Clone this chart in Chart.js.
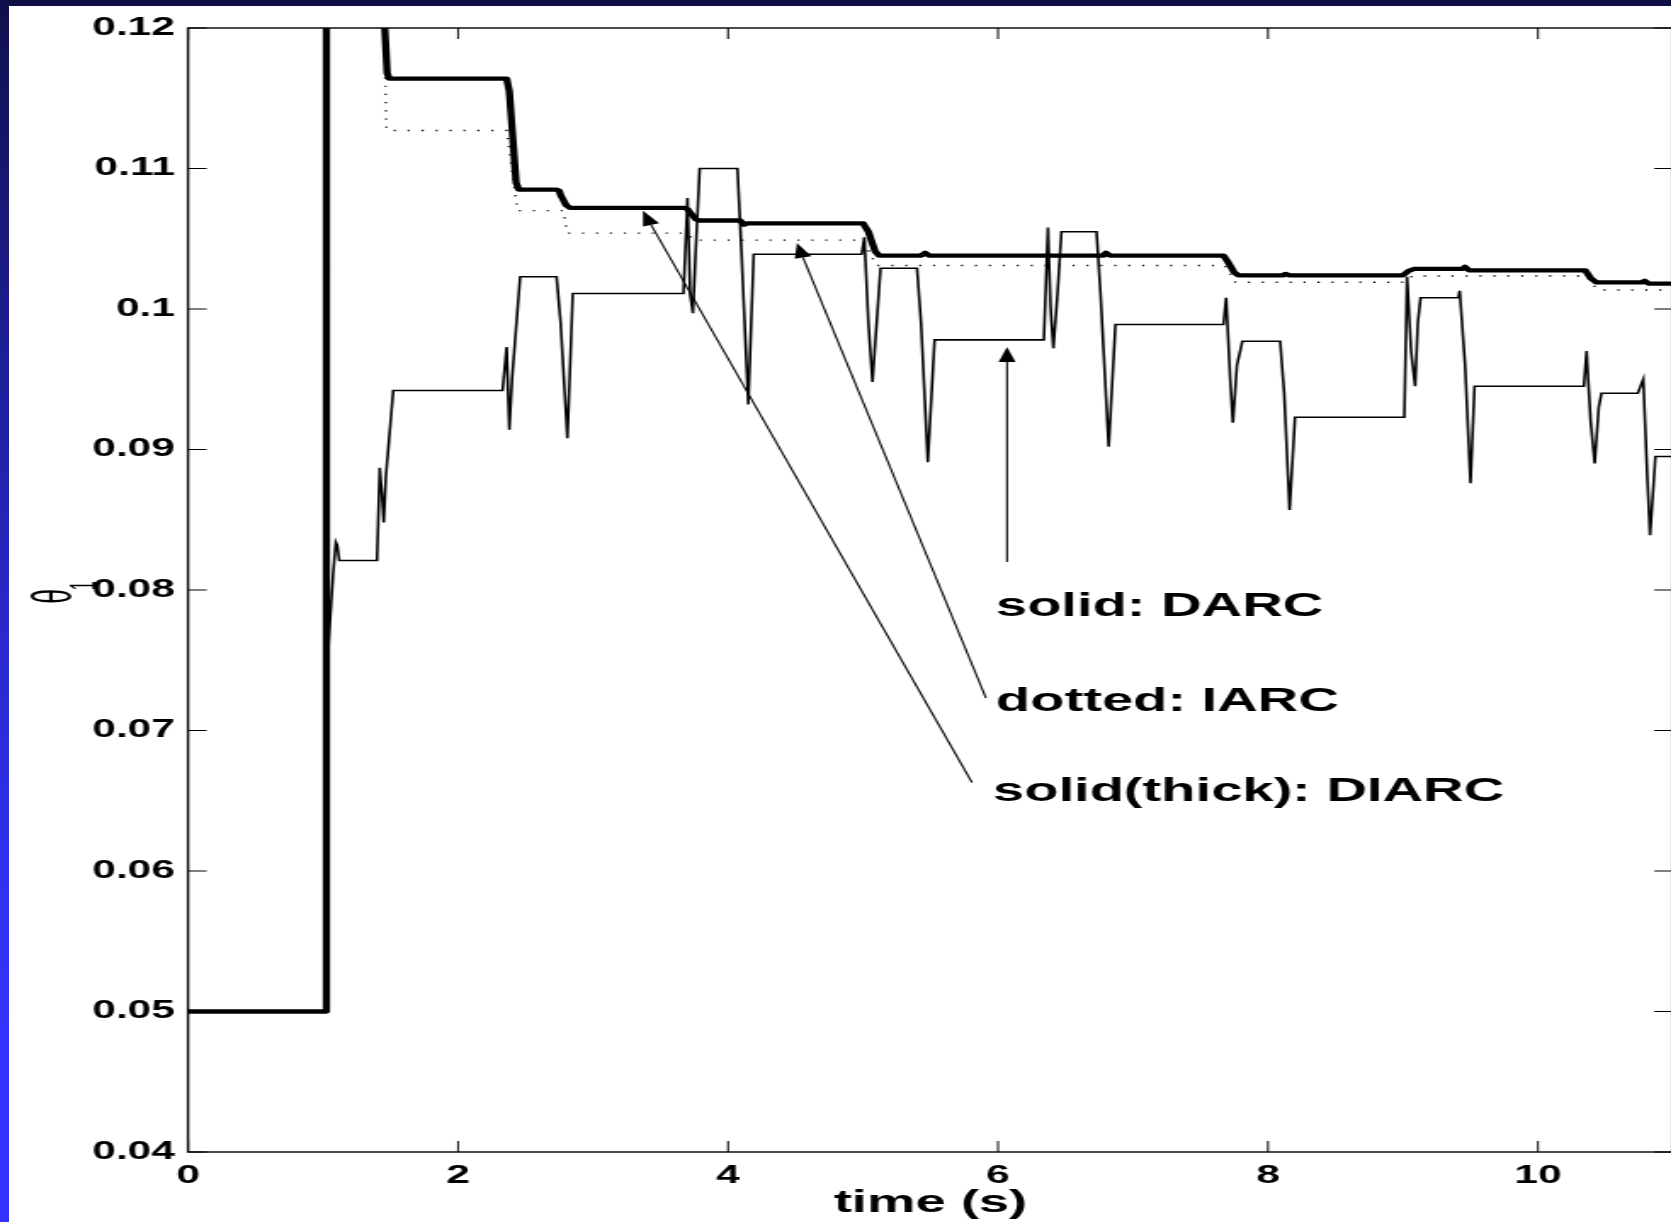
<!DOCTYPE html>
<html><head><meta charset="utf-8">
<script src="https://cdn.jsdelivr.net/npm/chart.js@4/dist/chart.umd.min.js"></script>
<style>
html,body{margin:0;padding:0;width:1671px;height:1222px;overflow:hidden;background:#fff;}
#wrap{position:absolute;left:0;top:0;width:992px;height:1222px;transform:scaleX(1.7);transform-origin:0 0;}
#topbar{position:absolute;left:0;top:0;width:1671px;height:6px;background:#0e0e44;z-index:2;}
#leftbar{position:absolute;left:0;top:0;width:9px;height:1222px;z-index:3;
  background:linear-gradient(to bottom,#10104c 0%,#1c1c8c 25%,#2828c8 50%,#3030ec 70%,#3434ff 85%,#3434ff 100%);}
</style></head>
<body>
<div id="wrap"><canvas id="c"></canvas></div>
<div id="topbar"></div><div id="leftbar"></div>
<script>
// ---- data (time in s, theta_1 values) ----
const darcT = [0,1.015,1.02,1.04,1.06,1.075,1.095,1.105,1.12,1.40,1.42,1.435,1.45,1.465,1.52,2.33,2.36,2.38,2.40,2.46,2.73,2.76,2.81,2.85,3.67,3.70,3.72,3.74,3.76,3.79,4.07,4.10,4.15,4.19,4.99,5.01,5.04,5.07,5.09,5.13,5.40,5.43,5.48,5.53,6.34,6.37,6.39,6.41,6.44,6.47,6.73,6.76,6.82,6.87,7.67,7.69,7.72,7.74,7.77,7.81,8.09,8.12,8.16,8.20,9.01,9.03,9.06,9.09,9.11,9.13,9.41,9.42,9.46,9.50,9.53,10.34,10.36,10.39,10.42,10.45,10.47,10.74,10.78,10.81,10.83,10.87,11.0];
const darcV = [0.05,0.05,0.0700,0.0760,0.0790,0.0812,0.0834,0.0832,0.0821,0.0821,0.0887,0.0870,0.0848,0.0880,0.0942,0.0942,0.0973,0.0914,0.0950,0.1023,0.1023,0.0990,0.0908,0.1011,0.1011,0.1079,0.1010,0.0997,0.1040,0.1100,0.1100,0.1040,0.0932,0.1039,0.1039,0.1051,0.0990,0.0948,0.0975,0.1029,0.1029,0.0990,0.0891,0.0978,0.0978,0.1058,0.1000,0.0972,0.1010,0.1055,0.1055,0.1010,0.0902,0.0989,0.0989,0.1008,0.0950,0.0919,0.0960,0.0977,0.0977,0.0940,0.0857,0.0923,0.0923,0.1023,0.0970,0.0945,0.0990,0.1008,0.1008,0.1013,0.0960,0.0876,0.0945,0.0945,0.0970,0.0920,0.0890,0.0930,0.0940,0.0940,0.0950,0.0880,0.0839,0.0895,0.0895];

const iarcT = [0,1.02,1.025,1.44,1.47,2.36,2.44,2.78,2.81,3.70,3.74,5.00,5.10,7.68,7.76,9.01,9.07,10.36,10.44,11.0];
const iarcV = [0.05,0.05,0.125,0.125,0.1127,0.1127,0.1070,0.1070,0.1054,0.1054,0.1049,0.1049,0.1031,0.1031,0.1019,0.1019,0.10235,0.10235,0.10135,0.10135];

const diarcT = [0,1.02,1.025,1.43,1.475,1.49,2.36,2.38,2.43,2.45,2.73,2.75,2.76,2.80,2.83,3.68,3.70,3.76,3.78,4.09,4.12,4.14,5.00,5.04,5.09,5.12,5.43,5.46,5.49,6.78,6.80,6.83,7.67,7.70,7.75,7.78,8.11,8.13,8.16,9.00,9.04,9.08,9.44,9.46,9.49,10.35,10.39,10.43,10.77,10.79,10.82,11.0];
const diarcV = [0.05,0.05,0.125,0.125,0.1168,0.1164,0.1164,0.1155,0.1090,0.1085,0.1085,0.1084,0.1081,0.1074,0.1072,0.1072,0.1071,0.1064,0.1063,0.1063,0.1060,0.1061,0.1061,0.1055,0.1041,0.1038,0.1038,0.1040,0.1038,0.1038,0.1040,0.1038,0.1038,0.1034,0.1026,0.1024,0.1024,0.1025,0.1024,0.1024,0.1027,0.10285,0.10285,0.1030,0.10275,0.10275,0.1022,0.1019,0.1019,0.1020,0.1018,0.1018];

const xTickValues = [0,2,4,6,8,10];
const xTickLabels = ['0','2','4','6','8','10'];
const yTickValues = [0.04,0.05,0.06,0.07,0.08,0.09,0.10,0.11,0.12];
const yTickLabels = ['0.04','0.05','0.06','0.07','0.08','0.09','0.1','0.11','0.12'];

const noteTexts = ['solid: DARC','dotted: IARC','solid(thick): DIARC'];
const noteT = [5.985,5.985,5.963];
const noteV = [0.07815,0.07139,0.06498];
const arrowTailT = [6.067,5.911,5.807];
const arrowTailV = [0.0820,0.0723,0.0663];
const arrowHeadT = [6.067,4.511,3.370];
const arrowHeadV = [0.0973,0.1047,0.1070];

const pts = (ts, vs) => ts.map((t,i)=>({x:t,y:vs[i]}));
const FONT = 'Liberation Sans';

// draw a glyph fitted into a box (in the current, rotated frame)
function fitGlyph(ctx, ch, boxW, boxH, x0, yBottom){
  ctx.font = '40px "'+FONT+'"';
  const m = ctx.measureText(ch);
  const gh = m.actualBoundingBoxAscent + m.actualBoundingBoxDescent;
  const gw = m.actualBoundingBoxLeft + m.actualBoundingBoxRight;
  const fs = 40 * boxH / gh;
  ctx.font = fs.toFixed(2)+'px "'+FONT+'"';
  const m2 = ctx.measureText(ch);
  const gw2 = m2.actualBoundingBoxLeft + m2.actualBoundingBoxRight;
  const sx = boxW / gw2;
  ctx.save();
  ctx.translate(x0, 0);
  ctx.scale(sx, 1);
  ctx.fillText(ch, m2.actualBoundingBoxLeft, yBottom - m2.actualBoundingBoxDescent);
  ctx.restore();
}

const framePlugin = {
  id:'frame',
  afterDraw(chart){
    const {ctx, chartArea:a, scales:{x,y}} = chart;
    ctx.save();
    ctx.strokeStyle = '#000';
    ctx.fillStyle = '#000';
    ctx.lineWidth = 1.4;
    ctx.strokeRect(a.left, a.top, a.right-a.left, a.bottom-a.top);
    ctx.lineWidth = 1;
    const seg=(x1,y1,x2,y2)=>{ctx.beginPath();ctx.moveTo(x1,y1);ctx.lineTo(x2,y2);ctx.stroke();};
    xTickValues.forEach(v=>{const px=x.getPixelForValue(v); seg(px,a.bottom,px,a.bottom-11); seg(px,a.top,px,a.top+11);});
    yTickValues.forEach(v=>{const py=y.getPixelForValue(v); seg(a.left,py,a.left+11,py); seg(a.right,py,a.right-11,py);});
    // arrows
    ctx.lineWidth = 1.1;
    for(let i=0;i<arrowTailT.length;i++){
      const x1=x.getPixelForValue(arrowTailT[i]), y1=y.getPixelForValue(arrowTailV[i]);
      const x2=x.getPixelForValue(arrowHeadT[i]), y2=y.getPixelForValue(arrowHeadV[i]);
      const ang=Math.atan2(y2-y1,x2-x1), L=15, W=5;
      const bx=x2-L*Math.cos(ang), by=y2-L*Math.sin(ang);
      seg(x1,y1,bx,by);
      ctx.beginPath();
      ctx.moveTo(x2,y2);
      ctx.lineTo(bx+W*Math.sin(ang), by-W*Math.cos(ang));
      ctx.lineTo(bx-W*Math.sin(ang), by+W*Math.cos(ang));
      ctx.closePath(); ctx.fill();
    }
    // notes
    ctx.font = 'bold 33px "'+FONT+'"';
    ctx.textBaseline = 'alphabetic';
    ctx.textAlign = 'left';
    noteTexts.forEach((s,i)=>ctx.fillText(s, x.getPixelForValue(noteT[i]), y.getPixelForValue(noteV[i])));
    // y axis title (theta with subscript 1), rotated
    ctx.translate(42.4, 603);
    ctx.rotate(-Math.PI/2);
    fitGlyph(ctx, 'θ', 13, 24.5, 0, 0);
    fitGlyph(ctx, '1', 8, 15.5, 13.5, 13.5);
    ctx.restore();
  }
};

new Chart(document.getElementById('c'), {
  type:'line',
  data:{datasets:[
    {label:'solid(thick): DIARC', data:pts(diarcT,diarcV), borderColor:'#000', borderWidth:4.3, pointRadius:0, borderJoinStyle:'round', borderCapStyle:'round', tension:0, order:0},
    {label:'dotted: IARC', data:pts(iarcT,iarcV), borderColor:'#000', borderWidth:1.4, borderDash:[1.2,7], pointRadius:0, tension:0, order:1},
    {label:'solid: DARC', data:pts(darcT,darcV), borderColor:'#000', borderWidth:1.6, pointRadius:0, tension:0, order:2}
  ]},
  options:{
    responsive:true, maintainAspectRatio:false, animation:false, events:[],
    layout:{padding:{left:0,right:7.9,top:28,bottom:0}},
    plugins:{legend:{display:false}, tooltip:{enabled:false}},
    scales:{
      x:{type:'linear', min:0, max:11,
        grid:{display:false, drawTicks:false}, border:{display:false},
        afterBuildTicks:s=>{s.ticks = xTickValues.map(v=>({value:v}));},
        afterFit:s=>{s.height = 70;},
        ticks:{callback:(v,i)=>xTickLabels[i], color:'#000', font:{family:FONT,size:25,weight:'bold'}, padding:9, maxRotation:0, autoSkip:false},
        title:{display:true, text:'time (s)', color:'#000', font:{family:FONT,size:32,weight:'bold'}, padding:{top:0,bottom:0}}
      },
      y:{type:'linear', min:0.04, max:0.12,
        grid:{display:false, drawTicks:false}, border:{display:false},
        afterBuildTicks:s=>{s.ticks = yTickValues.map(v=>({value:v}));},
        afterFit:s=>{s.width = 110.6;},
        ticks:{callback:(v,i)=>yTickLabels[i], color:'#000', font:{family:FONT,size:25,weight:'bold'}, padding:7.7, autoSkip:false}
      }
    }
  },
  plugins:[framePlugin]
});
</script>
</body></html>
